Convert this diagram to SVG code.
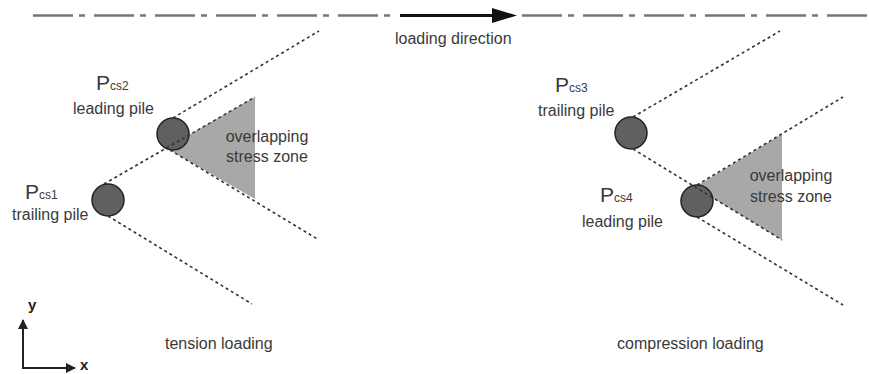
<svg xmlns="http://www.w3.org/2000/svg" width="869" height="374" viewBox="0 0 869 374">
  <style>
    .txt { font-family: "Liberation Sans", Arial, sans-serif; fill: #3a3a3a; font-size: 16px; }
    .p { font-size: 21px; }
    .sub { font-size: 12px; }
    .axl { font-family: "Liberation Sans", Arial, sans-serif; fill: #222; font-size: 15px; font-weight: bold; }
    .dot { stroke: #333; stroke-width: 1.6; stroke-dasharray: 3 3; fill: none; }
    .pile { fill: #606060; stroke: #222; stroke-width: 1.5; }
    .zone { fill: #a8a8a8; }
    .axis { stroke: #222; stroke-width: 2; fill: none; }
  </style>
  <defs>
    <marker id="ah" viewBox="0 0 10 10" refX="9" refY="5" markerWidth="5" markerHeight="5" orient="auto" markerUnits="strokeWidth">
      <path d="M0,0 L10,5 L0,10 z" fill="#222"/>
    </marker>
    <filter id="blur" x="-50%" y="-10%" width="200%" height="120%">
      <feGaussianBlur stdDeviation="1"/>
    </filter>
  </defs>
  <rect width="869" height="374" fill="#ffffff"/>

  <!-- loading direction line -->
  <g id="direction">
    <line x1="33" y1="15.5" x2="398" y2="15.5" stroke="#777" stroke-width="2.5" stroke-dasharray="40 6 6 9"/>
    <line x1="522" y1="15.5" x2="869" y2="15.5" stroke="#777" stroke-width="2.5" stroke-dasharray="40 6 6 9"/>
    <line x1="400" y1="15.5" x2="495" y2="15.5" stroke="#111" stroke-width="3"/>
    <polygon points="492,8 517,15.5 492,23" fill="#111"/>
    <text class="txt" x="395" y="44">loading direction</text>
  </g>

  <!-- stress zones -->
  <g id="zone-left">
    <polygon class="zone" points="166,148 255,97 255,199"/>
    <line x1="255.5" y1="97" x2="255.5" y2="199" stroke="#8a8a8a" stroke-width="2" filter="url(#blur)"/>
    <text class="txt" x="267" y="142" text-anchor="middle">overlapping</text>
    <text class="txt" x="267" y="162" text-anchor="middle">stress zone</text>
  </g>
  <g id="zone-right">
    <polygon class="zone" points="695,187 782,134 782,240"/>
    <line x1="782.5" y1="134" x2="782.5" y2="240" stroke="#8a8a8a" stroke-width="2" filter="url(#blur)"/>
    <text class="txt" x="791" y="181" text-anchor="middle">overlapping</text>
    <text class="txt" x="791" y="202" text-anchor="middle">stress zone</text>
  </g>

  <!-- piles -->
  <g id="pcs1">
    <circle class="pile" cx="108" cy="200" r="16"/>
    <text class="txt" x="25" y="199"><tspan class="p">P</tspan><tspan class="sub">cs1</tspan></text>
    <text class="txt" x="12" y="220">trailing pile</text>
  </g>
  <g id="pcs2">
    <circle class="pile" cx="173" cy="134" r="16"/>
    <text class="txt" x="96" y="90"><tspan class="p">P</tspan><tspan class="sub">cs2</tspan></text>
    <text class="txt" x="73" y="114">leading pile</text>
  </g>
  <g id="pcs3">
    <circle class="pile" cx="631" cy="133" r="16"/>
    <text class="txt" x="555" y="92"><tspan class="p">P</tspan><tspan class="sub">cs3</tspan></text>
    <text class="txt" x="538" y="116">trailing pile</text>
  </g>
  <g id="pcs4">
    <circle class="pile" cx="697" cy="201" r="16"/>
    <text class="txt" x="600" y="202"><tspan class="p">P</tspan><tspan class="sub">cs4</tspan></text>
    <text class="txt" x="582" y="227">leading pile</text>
  </g>

  <!-- connectors: stress cone lines -->
  <g id="connectors">
    <line class="dot" x1="104" y1="184" x2="255" y2="97"/>
    <line class="dot" x1="108" y1="216" x2="252" y2="304"/>
    <line class="dot" x1="173" y1="118" x2="319" y2="31"/>
    <line class="dot" x1="170" y1="150" x2="319" y2="240"/>
    <line class="dot" x1="633" y1="117" x2="780" y2="31"/>
    <line class="dot" x1="633" y1="149" x2="782" y2="240"/>
    <line class="dot" x1="697" y1="185" x2="843" y2="97"/>
    <line class="dot" x1="697" y1="217" x2="843" y2="305"/>
  </g>

  <!-- axes -->
  <g id="axes">
    <line class="axis" x1="23" y1="368" x2="23" y2="320" marker-end="url(#ah)"/>
    <line class="axis" x1="22" y1="368" x2="75" y2="368" marker-end="url(#ah)"/>
    <text class="axl" x="28" y="310">y</text>
    <text class="axl" x="80" y="370">x</text>
  </g>

  <g id="captions">
    <text class="txt" x="165" y="349">tension loading</text>
    <text class="txt" x="617" y="349">compression loading</text>
  </g>
</svg>
